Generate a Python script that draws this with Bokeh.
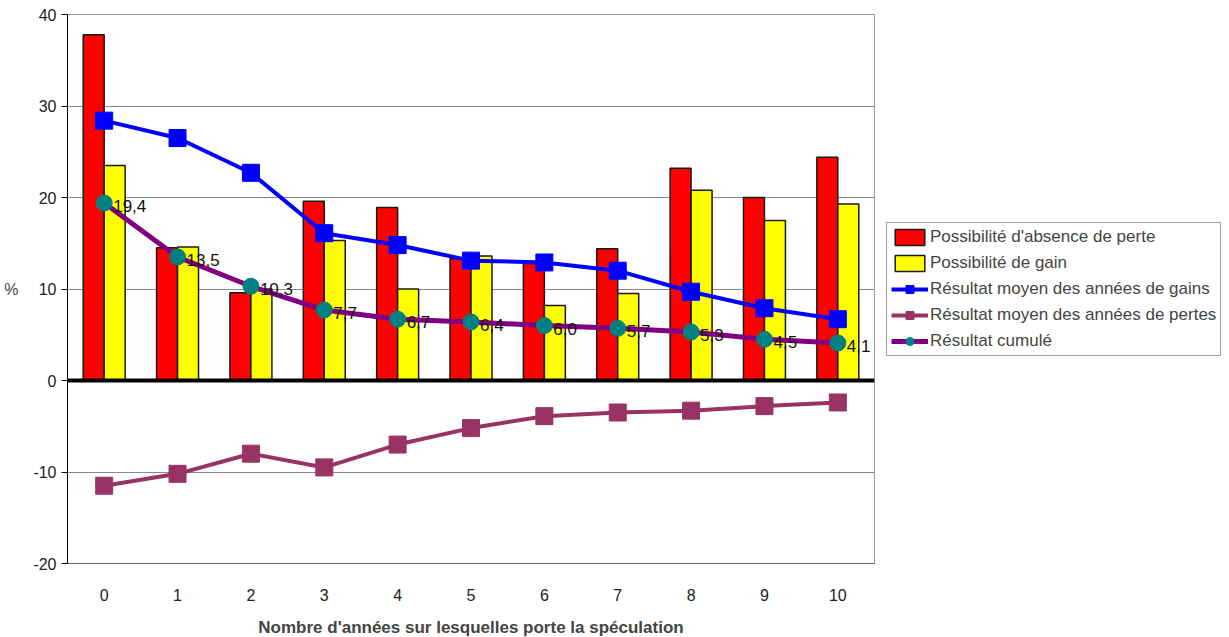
from bokeh.plotting import figure
from bokeh.models import (ColumnDataSource, FactorRange, Legend, LegendItem, Span,
                          FixedTicker, Range1d)
from bokeh.transform import dodge
from bokeh.core.properties import value
from bokeh.embed import file_html
from bokeh.resources import INLINE

categories = ["0", "1", "2", "3", "4", "5", "6", "7", "8", "9", "10"]
absence_perte = [37.8, 14.5, 9.6, 19.6, 18.9, 13.3, 12.8, 14.4, 23.2, 20.0, 24.4]
possib_gain = [23.5, 14.6, 10.0, 15.3, 10.0, 13.6, 8.2, 9.5, 20.8, 17.5, 19.3]
moy_gains = [28.4, 26.5, 22.7, 16.1, 14.8, 13.1, 12.9, 12.0, 9.7, 7.9, 6.7]
moy_pertes = [-11.5, -10.2, -8.0, -9.5, -7.0, -5.2, -3.9, -3.5, -3.3, -2.8, -2.4]
cumul = [19.4, 13.5, 10.3, 7.7, 6.7, 6.4, 6.0, 5.7, 5.3, 4.5, 4.1]
cumul_labels = [f"{v:.1f}".replace(".", ",") for v in cumul]
y_ticks = [-20, -10, 0, 10, 20, 30, 40]

FONT = "Liberation Sans"

src = ColumnDataSource(dict(cat=categories, a=absence_perte, g=possib_gain,
                            mg=moy_gains, mp=moy_pertes, c=cumul, cl=cumul_labels))

p = figure(x_range=FactorRange(*categories, range_padding=0), y_range=Range1d(-20, 40),
           frame_width=807, frame_height=549, output_backend="svg", toolbar_location=None,
           min_border_left=67, min_border_top=14, min_border_bottom=66, min_border_right=4)

p.outline_line_color = "#999999"
p.background_fill_color = "white"
p.border_fill_color = "white"

p.ygrid.ticker = FixedTicker(ticks=y_ticks)
p.ygrid.grid_line_color = "#888888"
p.ygrid.grid_line_width = 1
p.xgrid.grid_line_color = None

w = 0.286
r1 = p.vbar(x=dodge("cat", -w / 2, range=p.x_range), top="a", width=w, source=src,
            fill_color="#ff0000", line_color="#1a1a1a", line_width=1.5)
r2 = p.vbar(x=dodge("cat", w / 2, range=p.x_range), top="g", width=w, source=src,
            fill_color="#ffff00", line_color="#1a1a1a", line_width=1.5)

zero = Span(location=0, dimension="width", line_color="black", line_width=4)
p.add_layout(zero)

l1 = p.line("cat", "mg", source=src, line_color="#0000ff", line_width=4)
s1 = p.scatter("cat", "mg", source=src, marker="square", size=17,
               fill_color="#0000ff", line_color="#0000ff")
l2 = p.line("cat", "mp", source=src, line_color="#993366", line_width=4)
s2 = p.scatter("cat", "mp", source=src, marker="square", size=17,
               fill_color="#993366", line_color="#993366")
l3 = p.line("cat", "c", source=src, line_color="#800080", line_width=5)
s3 = p.scatter("cat", "c", source=src, marker="circle", size=16,
               fill_color="#008080", line_color="#008080")

p.text("cat", "c", text="cl", source=src, x_offset=9, y_offset=3,
       text_font=value(FONT), text_font_size="17px", text_color="#111111",
       text_baseline="middle", text_align="left")

# axes
p.yaxis.ticker = FixedTicker(ticks=y_ticks)
p.yaxis.major_label_overrides = {t: str(t) for t in y_ticks}
p.yaxis.axis_label = "%"
p.yaxis.axis_label_orientation = "horizontal"
p.yaxis.axis_label_text_font = FONT
p.yaxis.axis_label_text_font_style = "normal"
p.yaxis.axis_label_text_font_size = "16px"
p.yaxis.axis_label_standoff = 12
p.yaxis.major_label_text_font = FONT
p.yaxis.major_label_text_font_size = "16px"
p.yaxis.major_label_text_color = "#222222"
p.yaxis.major_label_standoff = 5
p.yaxis.major_tick_in = 0
p.yaxis.major_tick_out = 6
p.yaxis.minor_tick_line_color = None
p.yaxis.axis_line_color = "black"
p.yaxis.major_tick_line_color = "black"

p.xaxis.axis_label = "Nombre d'années sur lesquelles porte la spéculation"
p.xaxis.axis_label_text_font = FONT
p.xaxis.axis_label_text_font_style = "bold"
p.xaxis.axis_label_text_font_size = "17px"
p.xaxis.axis_label_standoff = 14
p.xaxis.major_label_text_font = FONT
p.xaxis.major_label_text_font_size = "16px"
p.xaxis.major_label_text_color = "#222222"
p.xaxis.major_label_standoff = 19
p.xaxis.major_tick_line_color = None
p.xaxis.axis_line_color = "#666666"

legend = Legend(items=[
    LegendItem(label="Possibilité d'absence de perte", renderers=[r1]),
    LegendItem(label="Possibilité de gain", renderers=[r2]),
    LegendItem(label="Résultat moyen des années de gains", renderers=[l1, s1]),
    LegendItem(label="Résultat moyen des années de pertes", renderers=[l2, s2]),
    LegendItem(label="Résultat cumulé", renderers=[l3, s3]),
], location="center_left")
legend.margin = 12
legend.padding = 4
legend.spacing = 6
legend.glyph_width = 37
legend.glyph_height = 20
legend.label_text_font = FONT
legend.label_text_font_size = "17px"
legend.label_standoff = 2
legend.label_height = 20
legend.border_line_color = "#444444"
legend.border_line_width = 1
legend.background_fill_alpha = 1
p.add_layout(legend, "right")

open("out.html", "w").write(file_html(p, INLINE))
